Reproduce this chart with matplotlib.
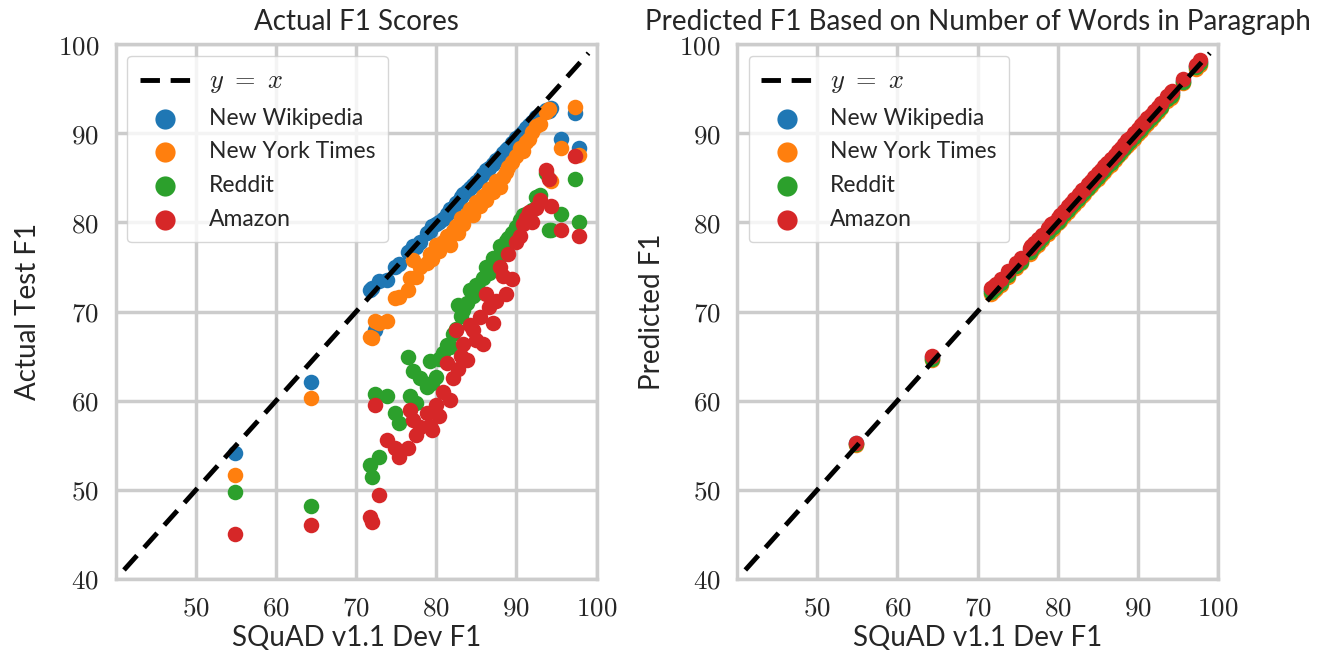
import matplotlib
matplotlib.use("Agg")
import matplotlib.pyplot as plt
import seaborn as sns

# SQuAD v1.1 dev F1 of each model (x axis)
squad_f1 = [54.8, 64.3, 71.7, 72.0, 72.3, 72.9, 73.8, 74.8, 75.4, 76.5,
            76.7, 77.1, 77.5, 78.0, 78.8, 79.2, 79.4, 80.0, 80.3, 80.8,
            81.3, 81.7, 82.1, 82.5, 82.7, 83.1, 83.3, 83.8, 84.2, 84.6,
            85.0, 85.4, 85.8, 86.2, 86.6, 87.1, 87.5, 87.9, 88.3, 88.7,
            89.0, 89.5, 90.0, 90.4, 90.8, 91.2, 91.6, 92.0, 92.5, 92.9,
            93.7, 94.1, 94.3, 95.6, 97.3, 97.8]

# actual test F1 on each new dataset
wiki_f1 = [54.1, 62.1, 72.4, 72.6, 67.9, 73.4, 73.5, 75.0, 75.3, 76.7,
           76.8, 77.3, 77.2, 77.8, 78.8, 79.0, 79.6, 79.8, 80.1, 80.4,
           81.0, 81.5, 81.6, 82.2, 82.3, 82.8, 83.2, 83.5, 83.9, 84.2,
           84.5, 85.0, 85.4, 85.9, 86.1, 86.6, 87.0, 87.3, 87.8, 88.1,
           88.4, 88.9, 89.5, 89.8, 90.2, 90.6, 90.9, 91.3, 91.8, 92.2,
           92.6, 92.5, 92.8, 89.4, 92.3, 88.3]
nyt_f1 = [51.7, 60.3, 67.2, 67.0, 68.9, 68.7, 68.9, 71.5, 71.6, 72.4,
          73.8, 75.8, 73.9, 75.0, 75.4, 76.5, 75.9, 77.5, 76.8, 77.8,
          78.5, 77.5, 79.0, 79.6, 78.8, 80.5, 79.8, 80.9, 81.5, 80.8,
          82.3, 81.9, 83.0, 82.5, 83.8, 83.4, 84.6, 84.0, 85.1, 85.7,
          86.2, 86.8, 87.5, 88.3, 88.0, 89.0, 89.4, 90.2, 90.8, 91.0,
          92.4, 92.7, 84.6, 88.3, 93.0, 87.6]
reddit_f1 = [49.8, 48.2, 52.8, 51.4, 60.8, 53.7, 60.5, 58.6, 57.5, 64.9,
             60.5, 63.3, 59.7, 62.5, 61.5, 64.4, 62.0, 62.7, 64.7, 65.3,
             66.2, 66.0, 67.5, 68.0, 70.7, 69.5, 70.2, 71.0, 72.4, 71.8,
             73.0, 72.2, 73.8, 75.0, 74.3, 76.0, 75.6, 77.3, 76.5, 77.9,
             78.2, 78.8, 79.5, 80.3, 80.8, 81.0, 80.5, 81.4, 82.9, 83.1,
             85.5, 79.1, 79.2, 80.9, 84.9, 80.0]
amazon_f1 = [45.0, 46.1, 47.0, 46.4, 59.5, 49.4, 55.6, 54.7, 53.7, 54.7,
             59.0, 57.8, 56.2, 57.0, 58.6, 57.2, 56.7, 59.5, 58.3, 61.0,
             64.2, 60.1, 62.5, 67.9, 63.5, 65.0, 66.4, 64.6, 68.5, 67.9,
             66.8, 69.4, 66.4, 72.0, 70.5, 68.7, 71.2, 75.0, 74.0, 72.0,
             76.5, 73.7, 77.8, 78.5, 79.8, 80.5, 81.2, 80.0, 81.6, 82.5,
             85.9, 84.9, 81.8, 79.1, 87.4, 78.5]

# predicted F1 from number of words in paragraph
wiki_pred = [55.3, 64.9, 72.4, 72.7, 72.9, 73.4, 74.3, 75.2, 75.8, 76.9,
             77.1, 77.5, 77.9, 78.3, 79.1, 79.6, 79.7, 80.3, 80.6, 81.1,
             81.6, 82.0, 82.4, 82.8, 83.0, 83.4, 83.6, 84.1, 84.5, 84.9,
             85.3, 85.7, 86.1, 86.5, 86.9, 87.4, 87.8, 88.2, 88.6, 89.0,
             89.3, 89.8, 90.3, 90.7, 91.1, 91.5, 91.9, 92.3, 92.8, 93.2,
             94.0, 94.4, 94.6, 95.9, 97.5, 98.0]
nyt_pred = [55.0, 64.6, 72.0, 72.3, 72.5, 73.0, 73.9, 74.9, 75.4, 76.5,
            76.7, 77.1, 77.5, 78.0, 78.7, 79.2, 79.3, 79.9, 80.2, 80.7,
            81.2, 81.6, 82.0, 82.4, 82.6, 83.0, 83.2, 83.7, 84.1, 84.5,
            84.9, 85.3, 85.7, 86.1, 86.5, 87.0, 87.4, 87.8, 88.2, 88.6,
            88.9, 89.4, 89.9, 90.3, 90.7, 91.1, 91.5, 91.9, 92.4, 92.8,
            93.6, 94.0, 94.2, 95.6, 97.2, 97.7]
reddit_pred = [55.1, 64.7, 72.2, 72.5, 72.7, 73.2, 74.1, 75.1, 75.6, 76.7,
               76.9, 77.3, 77.7, 78.2, 78.9, 79.4, 79.5, 80.1, 80.4, 80.9,
               81.4, 81.8, 82.2, 82.6, 82.8, 83.2, 83.4, 83.9, 84.3, 84.7,
               85.1, 85.5, 85.9, 86.3, 86.7, 87.2, 87.6, 88.0, 88.4, 88.8,
               89.1, 89.6, 90.1, 90.5, 90.9, 91.3, 91.7, 92.1, 92.6, 93.0,
               93.8, 94.2, 94.4, 95.8, 97.4, 97.9]
amazon_pred = [55.3, 65.0, 72.6, 72.9, 73.1, 73.6, 74.5, 75.5, 76.0, 77.1,
               77.3, 77.7, 78.1, 78.6, 79.4, 79.8, 79.9, 80.5, 80.8, 81.3,
               81.8, 82.2, 82.6, 83.0, 83.2, 83.6, 83.8, 84.3, 84.7, 85.1,
               85.5, 85.9, 86.3, 86.7, 87.1, 87.6, 88.0, 88.4, 88.8, 89.2,
               89.5, 90.0, 90.5, 90.9, 91.3, 91.7, 92.1, 92.5, 93.0, 93.4,
               94.2, 94.6, 94.8, 96.1, 97.7, 98.2]

dataset_names = ["New Wikipedia", "New York Times", "Reddit", "Amazon"]
dataset_colors = ["#1f77b4", "#ff7f0e", "#2ca02c", "#d62728"]
line_range = [41, 99]
tick_vals = [40, 50, 60, 70, 80, 90, 100]

sns.set_theme(style="whitegrid", font_scale=1.6)
plt.rcParams["font.family"] = ["Lato", "DejaVu Sans"]
plt.rcParams["mathtext.fontset"] = "cm"
plt.rcParams["axes.edgecolor"] = "#cccccc"
plt.rcParams["grid.color"] = "#cccccc"

fig, axs = plt.subplots(1, 2, figsize=(13.18, 6.70), dpi=100)
fig.subplots_adjust(left=0.088, right=0.924, bottom=0.136, top=0.934, wspace=0.293)

paineis = [
    (axs[0], [wiki_f1, nyt_f1, reddit_f1, amazon_f1], "Actual F1 Scores", "Actual Test F1", 12),
    (axs[1], [wiki_pred, nyt_pred, reddit_pred, amazon_pred],
     "Predicted F1 Based on Number of Words in Paragraph", "Predicted F1", 10),
]

for ax, series, titulo, ylab, ypad in paineis:
    ax.plot(line_range, line_range, linestyle="--", color="black", linewidth=3.5,
            dashes=(4, 2.2), label=r"$y\ =\ x$", zorder=3)
    for vals, nome, cor in zip(series, dataset_names, dataset_colors):
        ax.scatter(squad_f1, vals, s=125, color=cor, label=nome, linewidths=0, zorder=2)
    ax.set_xlim(40, 100)
    ax.set_ylim(40, 100)
    ax.set_xticks(tick_vals[1:])
    ax.set_yticks(tick_vals)
    ax.set_xticklabels(["$%d$" % v for v in tick_vals[1:]])
    ax.set_yticklabels(["$%d$" % v for v in tick_vals])
    ax.tick_params(labelsize=19.5, pad=6)
    ax.set_title(titulo, fontsize=20, pad=10)
    ax.set_xlabel("SQuAD v1.1 Dev F1", fontsize=20, labelpad=3)
    ax.set_ylabel(ylab, fontsize=20, labelpad=ypad)
    for sp in ax.spines.values():
        sp.set_linewidth(2.5)
    ax.grid(linewidth=2.5)
    leg = ax.legend(loc="upper left", fontsize=16.5, handlelength=2.2, borderpad=0.55,
                    labelspacing=0.55, markerscale=1.3, framealpha=0.8, edgecolor="#cccccc")
    leg.get_texts()[0].set_fontsize(19)

plt.savefig("out.png", dpi=100)
plt.close()
